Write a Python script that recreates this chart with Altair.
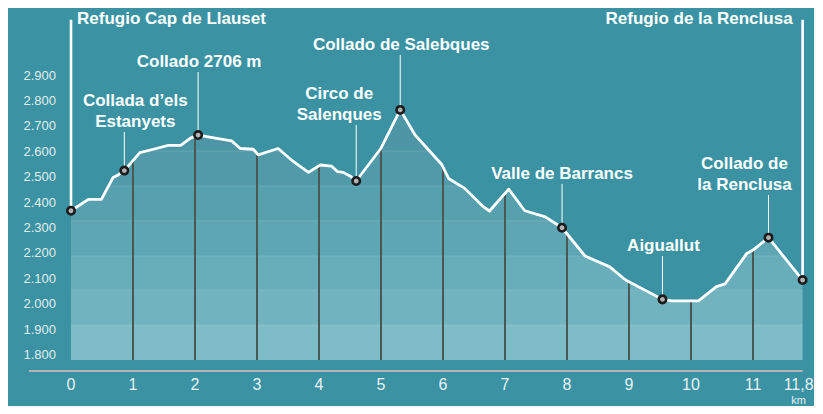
import altair as alt
import numpy as np
import pandas as pd

# ---------------- data ----------------
profile_km = [0.00, 0.28, 0.49, 0.68, 0.76, 0.86, 1.11, 1.33, 1.57, 1.77, 1.92, 2.05, 2.35, 2.59, 2.73,
              2.94, 3.02, 3.34, 3.59, 3.83, 4.02, 4.20, 4.30, 4.39, 4.50, 4.60, 5.00, 5.31, 5.55, 5.98,
              6.09, 6.35, 6.65, 6.75, 7.06, 7.32, 7.65, 7.92, 8.29, 8.69, 8.91, 8.99, 9.54, 9.69, 10.12,
              10.41, 10.55, 10.90, 11.00, 11.25, 11.80]
profile_elev = [2368, 2413, 2413, 2499, 2509, 2526, 2597, 2610, 2625, 2625, 2653, 2666, 2653, 2643, 2613,
                2610, 2588, 2613, 2561, 2519, 2548, 2544, 2522, 2519, 2505, 2485, 2614, 2765, 2666, 2550,
                2495, 2456, 2384, 2367, 2453, 2368, 2344, 2301, 2190, 2147, 2102, 2089, 2019, 2013, 2013,
                2069, 2080, 2200, 2213, 2262, 2095]

# waypoints (markers) along the profile
point_names = ["Refugio Cap de Llauset", "Collada d’els\nEstanyets", "Collado 2706 m", "Circo de\nSalenques",
               "Collado de Salebques", "Valle de Barrancs", "Aiguallut", "Collado de\nla Renclusa",
               "Refugio de la Renclusa"]
point_km = [0.00, 0.86, 2.05, 4.60, 5.31, 7.92, 9.54, 11.25, 11.80]
point_elev = [2368, 2526, 2666, 2485, 2765, 2301, 2019, 2262, 2095]
# elevation at which each leader line ends (label anchor)
leader_top = [3120, 2678, 2914, 2706, 2981, 2473, 2190, 2430, 3120]

# axis ticks
y_ticks = [1800, 1900, 2000, 2100, 2200, 2300, 2400, 2500, 2600, 2700, 2800, 2900]
y_tick_labels = ["1.800", "1.900", "2.000", "2.100", "2.200", "2.300", "2.400", "2.500", "2.600",
                 "2.700", "2.800", "2.900"]
x_ticks = [0, 1, 2, 3, 4, 5, 6, 7, 8, 9, 10, 11]
x_tick_labels = ["0", "1", "2", "3", "4", "5", "6", "7", "8", "9", "10", "11"]
x_end = 11.8
x_end_label = "11,8"
x_unit = "km"

# decorative elevation bands under the profile
band_lo = [1780, 1918, 2056, 2190, 2328, 2465, 2603]
band_hi = [1918, 2056, 2190, 2328, 2465, 2603, 2800]

# ---------------- styles ----------------
BG = "#3a92a2"
band_colors = ["#7ebdc8", "#71b4c0", "#67adba", "#5ea6b4", "#57a0ae", "#519aa9", "#4c96a6"]
label_dx = [6, 11, 1, -17, 1, 0, 1, -24, -10]
label_align = ["left", "center", "center", "center", "center", "center", "center", "center", "right"]
FONT = "Liberation Sans"
LINE_H = 20.5

W, H = 806, 398
xs = alt.Scale(domain=[-63 / 62, (W - 63) / 62], nice=False, zero=False)
ys = alt.Scale(domain=[1800 - (H - 347) / 0.254, 1800 + 347 / 0.254], nice=False, zero=False)


def X(f):
    return alt.X(f, type="quantitative", scale=xs, axis=None)


def Y(f):
    return alt.Y(f, type="quantitative", scale=ys, axis=None)


def XD(v):
    return alt.X(datum=v, type="quantitative", scale=xs, axis=None)


def YD(v):
    return alt.Y(datum=v, type="quantitative", scale=ys, axis=None)


profile = pd.DataFrame({"km": profile_km, "elev": profile_elev})
bands = pd.DataFrame({"lo": band_lo, "hi": band_hi, "col": band_colors})
points = pd.DataFrame({"name": point_names, "km": point_km, "elev": point_elev, "top": leader_top})
km_lines = pd.DataFrame({"km": x_ticks[1:]})
km_lines["top"] = np.interp(km_lines["km"], profile_km, profile_elev)
yt = pd.DataFrame({"v": y_ticks, "t": y_tick_labels})
xt = pd.DataFrame({"v": x_ticks, "t": x_tick_labels})

layers = []

# bands
layers.append(alt.Chart(bands).mark_rect().encode(
    x=XD(0), x2=alt.X2(datum=x_end), y=Y("lo"), y2=alt.Y2("hi"),
    color=alt.Color("col:N", scale=None)))
layers.append(alt.Chart(bands.iloc[:-1]).mark_rule(color="#ffffff", opacity=0.13, strokeWidth=1).encode(
    x=XD(0), x2=alt.X2(datum=x_end), y=Y("hi")))
# mask above the profile
layers.append(alt.Chart(profile).mark_area(color=BG, opacity=1).encode(
    x=X("km"), y=Y("elev"), y2=alt.Y2(datum=2810)))
# km lines
layers.append(alt.Chart(km_lines).mark_rule(color="#485852", strokeWidth=2).encode(
    x=X("km"), y=Y("top"), y2=alt.Y2(datum=1780)))
# axis base line
layers.append(alt.Chart(profile.iloc[:1]).mark_rule(color="#b3b3b3", strokeWidth=2.2).encode(
    x=XD(-0.677), x2=alt.X2(datum=x_end), y=YD(1737)))
# leader lines
ends = points.iloc[[0, len(points) - 1]]
mids = points.iloc[1:-1]
layers.append(alt.Chart(mids).mark_rule(color="#ffffff", strokeWidth=1).encode(
    x=X("km"), y=Y("elev"), y2=alt.Y2("top")))
layers.append(alt.Chart(ends).mark_rule(color="#ffffff", strokeWidth=2.6).encode(
    x=X("km"), y=Y("elev"), y2=alt.Y2("top")))
# profile line
layers.append(alt.Chart(profile).mark_line(color="#ffffff", strokeWidth=2.8, strokeJoin="round").encode(
    x=X("km"), y=Y("elev")))
# markers
layers.append(alt.Chart(points).mark_point(shape="circle", filled=False, size=55, fill="#b2b2b2",
                                           fillOpacity=1, stroke="#1c1c1c", strokeWidth=2.6, opacity=1).encode(
    x=X("km"), y=Y("elev")))
# labels
for i in range(len(points)):
    row = points.iloc[[i]]
    name = point_names[i]
    n_lines = name.count("\n") + 1
    if i in (0, len(points) - 1):
        mk = alt.Chart(row).mark_text(font=FONT, fontSize=17, fontWeight="bold", color="#ffffff",
                                      align=label_align[i], baseline="middle", dx=label_dx[i], dy=-1)
    else:
        mk = alt.Chart(row).mark_text(font=FONT, fontSize=17, fontWeight="bold", color="#ffffff",
                                      align=label_align[i], baseline="bottom", dx=label_dx[i],
                                      dy=-1 - (n_lines - 1) * LINE_H,
                                      lineBreak="\n", lineHeight=LINE_H)
    layers.append(mk.encode(x=X("km"), y=Y("top"), text="name:N"))
# y tick labels
layers.append(alt.Chart(yt).mark_text(font=FONT, fontSize=13, color="#e2edef", align="right",
                                      baseline="middle", dx=-15).encode(
    x=XD(0), y=Y("v"), text="t:N"))
# x tick labels
layers.append(alt.Chart(xt).mark_text(font=FONT, fontSize=16, color="#e8f1f3", align="center",
                                      baseline="middle").encode(
    x=X("v"), y=YD(1680), text="t:N"))
layers.append(alt.Chart(profile.iloc[:1]).mark_text(font=FONT, fontSize=16, color="#e8f1f3", align="center",
                                                    baseline="middle", dx=-4, text=x_end_label).encode(
    x=XD(x_end), y=YD(1680)))
layers.append(alt.Chart(profile.iloc[:1]).mark_text(font=FONT, fontSize=11, color="#e8f1f3", align="center",
                                                    baseline="alphabetic", dx=-4, text=x_unit).encode(
    x=XD(x_end), y=YD(1608)))

chart = alt.layer(*layers).properties(
    width=W, height=H, background=BG, padding=0,
    autosize=alt.AutoSizeParams(type="none"),
).configure_view(stroke=None)

chart.save("out.html", embed_options={"renderer": "svg", "actions": False})
